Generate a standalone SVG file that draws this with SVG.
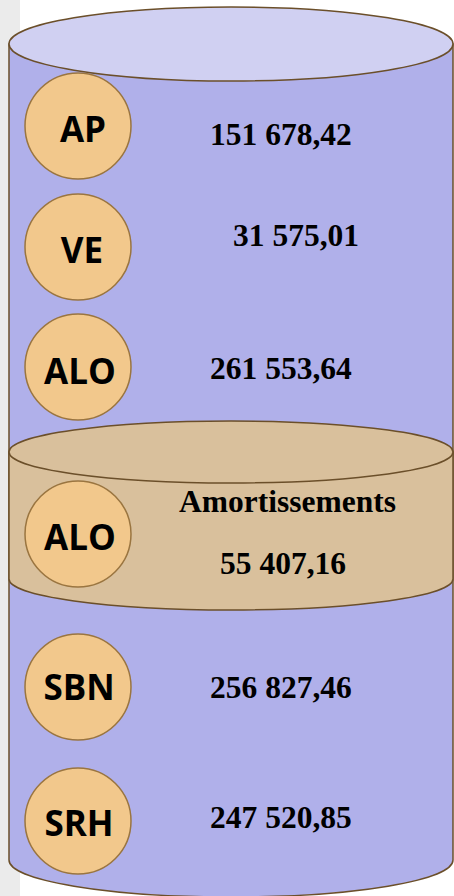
<svg xmlns="http://www.w3.org/2000/svg" width="454" height="896" viewBox="0 0 454 896">
<style>
.cyl{stroke:#6b4f2a;stroke-width:1.5}
.blue{fill:#b0b0ea}
.top{fill:#d0d0f2}
.tan{fill:#d9c09c}
.c{fill:#f2c88c;stroke:#9a7540;stroke-width:1.5}
.lbl{font-family:"Open Sans","Liberation Sans",sans-serif;font-weight:bold;font-size:35px;fill:#000;text-anchor:middle}
.num{font-family:"Liberation Serif","Times New Roman",serif;font-weight:bold;font-size:31.5px;fill:#000}
</style>
<rect x="0" y="0" width="454" height="896" fill="#ffffff"/>
<rect x="0" y="0" width="20" height="896" fill="#ebebeb"/>
<g id="cylinder-main">
<path class="cyl blue" d="M9,44 L9,860 A222,37 0 0 0 453,860 L453,44 Z"/>
<ellipse class="cyl top" cx="231" cy="44" rx="222" ry="37"/>
</g>
<g id="cylinder-amort">
<path class="cyl tan" d="M9,452 L9,579 A222,31 0 0 0 453,579 L453,452 Z"/>
<ellipse class="cyl tan" cx="231" cy="452" rx="222" ry="31"/>
</g>
<g id="node-ap">
<circle class="c" cx="78" cy="126" r="53"/>
<text class="lbl" x="83" y="142">AP</text>
<text class="num" x="210" y="145">151 678,42</text>
</g>
<g id="node-ve">
<circle class="c" cx="78" cy="247" r="53"/>
<text class="lbl" x="82" y="263">VE</text>
<text class="num" x="233" y="246">31 575,01</text>
</g>
<g id="node-alo">
<circle class="c" cx="78" cy="367" r="53"/>
<text class="lbl" x="80" y="384">ALO</text>
<text class="num" x="210" y="379">261 553,64</text>
</g>
<g id="node-alo-amort">
<circle class="c" cx="78" cy="534" r="53"/>
<text class="lbl" x="80" y="550">ALO</text>
<text class="num" x="179" y="512">Amortissements</text>
<text class="num" x="220" y="574">55 407,16</text>
</g>
<g id="node-sbn">
<circle class="c" cx="78" cy="687" r="53"/>
<text class="lbl" x="79" y="700">SBN</text>
<text class="num" x="210" y="698">256 827,46</text>
</g>
<g id="node-srh">
<circle class="c" cx="78" cy="821" r="53"/>
<text class="lbl" x="79" y="836">SRH</text>
<text class="num" x="210" y="828">247 520,85</text>
</g>
<g id="connectors"/>
</svg>
